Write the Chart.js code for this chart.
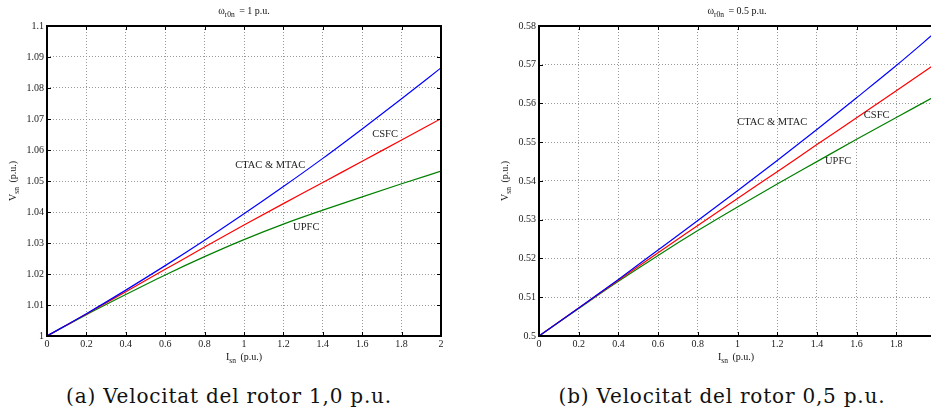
<!DOCTYPE html>
<html><head><meta charset="utf-8">
<script src="https://cdn.jsdelivr.net/npm/chart.js@4/dist/chart.umd.min.js"></script>
<style>
html,body{margin:0;padding:0;background:#fff;width:931px;height:415px;overflow:hidden;position:relative}
.panel{position:absolute;top:0;overflow:hidden;height:370px}
.lbl{position:absolute;font-family:"Liberation Serif","Times New Roman",Times,serif;font-size:10px;color:#111;white-space:nowrap;transform:translate(-50%,-50%);line-height:1}
.lbl sub{font-size:75%;position:relative;top:0.35em;vertical-align:baseline;margin-right:2px}
.rot{transform:translate(-50%,-50%) rotate(-90deg)}
.cap{position:absolute;font-family:"DejaVu Serif","Liberation Serif",serif;font-size:20px;letter-spacing:0.8px;color:#111;white-space:nowrap;transform:translate(-50%,-50%);line-height:1}
</style></head>
<body>
<div class="panel" style="left:0;width:470px"><canvas id="ca" width="470" height="370"></canvas></div>
<div class="panel" style="left:470px;width:461px"><canvas id="cb" width="480" height="370"></canvas></div>

<div class="lbl" style="left:244px;top:11px">ω<sub>r0n</sub> = 1 p.u.</div>
<div class="lbl" style="left:244px;top:357px">I<sub>sn</sub> (p.u.)</div>
<div class="lbl rot" style="left:13px;top:181px">V<sub>sn</sub> (p.u.)</div>
<div class="cap" style="left:229px;top:396px">(a) Velocitat del rotor 1,0 p.u.</div>

<div class="lbl" style="left:737px;top:11px">ω<sub>r0n</sub> = 0.5 p.u.</div>
<div class="lbl" style="left:736px;top:357px">I<sub>sn</sub> (p.u.)</div>
<div class="lbl rot" style="left:505px;top:181px">V<sub>sn</sub> (p.u.)</div>
<div class="cap" style="left:722px;top:396px">(b) Velocitat del rotor 0,5 p.u.</div>

<script>
// ---- data ----
const isn = [0, 0.2, 0.4, 0.6, 0.8, 1.0, 1.2, 1.4, 1.6, 1.8, 2.0];
const xTickLabels = ['0','0.2','0.4','0.6','0.8','1','1.2','1.4','1.6','1.8','2'];
const seriesNames = ['CTAC & MTAC', 'CSFC', 'UPFC'];

// (a) omega_r0n = 1 p.u.
const ctacA = [1.0, 1.0072, 1.0148, 1.0227, 1.0309, 1.0394, 1.0482, 1.0573, 1.0668, 1.0765, 1.0865];
const csfcA = [1.0, 1.0071, 1.0143, 1.0215, 1.0287, 1.0358, 1.0427, 1.0495, 1.0564, 1.0632, 1.0701];
const upfcA = [1.0, 1.0069, 1.0134, 1.0197, 1.0256, 1.0311, 1.0361, 1.0406, 1.0449, 1.0491, 1.0532];
const yTickValsA = [1.0, 1.01, 1.02, 1.03, 1.04, 1.05, 1.06, 1.07, 1.08, 1.09, 1.1];
const yTickLabelsA = ['1','1.01','1.02','1.03','1.04','1.05','1.06','1.07','1.08','1.09','1.1'];

// (b) omega_r0n = 0.5 p.u.
const ctacB = [0.5, 0.5072, 0.5146, 0.5222, 0.5298, 0.5375, 0.5453, 0.5533, 0.5615, 0.5698, 0.5785];
const csfcB = [0.5, 0.5072, 0.5144, 0.5215, 0.5285, 0.5355, 0.5424, 0.5494, 0.5563, 0.5633, 0.5703];
const upfcB = [0.5, 0.5071, 0.5141, 0.5208, 0.5272, 0.5333, 0.5392, 0.5450, 0.5508, 0.5564, 0.5620];
const yTickValsB = [0.5, 0.51, 0.52, 0.53, 0.54, 0.55, 0.56, 0.57, 0.58];
const yTickLabelsB = ['0.5','0.51','0.52','0.53','0.54','0.55','0.56','0.57','0.58'];

// annotation anchor points (data units)
const notePosA = [[1.133, 1.0552], [1.716, 1.065], [1.316, 1.035]];
const notePosB = [[1.175, 0.5552], [1.701, 0.5569], [1.507, 0.5450]];

const colors = ['#0000ff', '#ff0000', '#008000'];
const xTickVals = isn;
const SERIF = '"Liberation Serif", "Times New Roman", Times, serif';

const framePlugin = {
  id: 'frame',
  afterDatasetsDraw(chart, args, opts) {
    const {ctx, chartArea: a, scales: {x, y}} = chart;
    ctx.save();
    ctx.strokeStyle = '#000';
    ctx.lineWidth = 1;
    ctx.beginPath();
    x.ticks.forEach(t => {
      const px = Math.round(x.getPixelForValue(t.value)) + 0.5;
      ctx.moveTo(px, a.bottom); ctx.lineTo(px, a.bottom - 4);
      ctx.moveTo(px, a.top); ctx.lineTo(px, a.top + 4);
    });
    y.ticks.forEach(t => {
      const py = Math.round(y.getPixelForValue(t.value)) + 0.5;
      ctx.moveTo(a.left, py); ctx.lineTo(a.left + 4, py);
      ctx.moveTo(a.right, py); ctx.lineTo(a.right - 4, py);
    });
    ctx.stroke();
    ctx.lineWidth = 2;
    ctx.strokeRect(a.left, a.top, a.width, a.height);
    ctx.font = '10.5px ' + SERIF;
    ctx.fillStyle = '#222';
    ctx.textAlign = 'center';
    ctx.textBaseline = 'middle';
    opts.names.forEach((n, i) => {
      const p = opts.pos[i];
      ctx.fillText(n, x.getPixelForValue(p[0]), y.getPixelForValue(p[1]));
    });
    ctx.restore();
  }
};

const charts = [];
function makeChart(id, series, yMin, yMax, yVals, yLabels, yWidth, padRight, notePos) {
  const tickFont = {family: SERIF, size: 10};
  charts.push(new Chart(document.getElementById(id), {
    type: 'line',
    data: {
      datasets: series.map((s, i) => ({
        label: seriesNames[i],
        data: isn.map((v, k) => ({x: v, y: s[k]})),
        borderColor: colors[i],
        borderWidth: 1.2,
        pointRadius: 0,
        cubicInterpolationMode: 'monotone',
        fill: false
      }))
    },
    options: {
      responsive: false,
      animation: false,
      events: [],
      layout: {padding: {left: 0, top: 26, right: padRight, bottom: 0}},
      plugins: {legend: {display: false}, tooltip: {enabled: false},
        frame: {names: seriesNames, pos: notePos}},
      scales: {
        x: {
          type: 'linear', min: 0, max: 2,
          afterBuildTicks: s => { s.ticks = xTickVals.map(v => ({value: v})); },
          afterFit: s => { s.height = 34; },
          ticks: {font: tickFont, color: '#222', padding: 2, maxRotation: 0,
            callback: (v, i) => xTickLabels[i]},
          grid: {color: '#9a9a9a', lineWidth: 1, drawTicks: false},
          border: {display: false, dash: [1, 2]}
        },
        y: {
          type: 'linear', min: yMin, max: yMax,
          afterBuildTicks: s => { s.ticks = yVals.map(v => ({value: v})); },
          afterFit: s => { s.width = yWidth; },
          ticks: {font: tickFont, color: '#222', padding: 3,
            callback: (v, i) => yLabels[i]},
          grid: {color: '#9a9a9a', lineWidth: 1, drawTicks: false},
          border: {display: false, dash: [1, 2]}
        }
      }
    },
    plugins: [framePlugin]
  }));
}

makeChart('ca', [ctacA, csfcA, upfcA], 1.0, 1.1, yTickValsA, yTickLabelsA, 47, 29, notePosA);
makeChart('cb', [ctacB, csfcB, upfcB], 0.5, 0.58, yTickValsB, yTickLabelsB, 69, 14, notePosB);
if (document.fonts && document.fonts.ready) {
  document.fonts.ready.then(() => charts.forEach(c => c.update('none')));
}
</script>
</body></html>
